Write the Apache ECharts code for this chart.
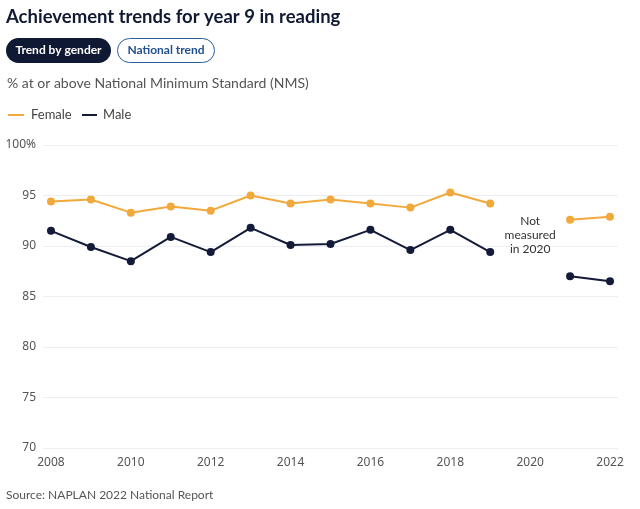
<!DOCTYPE html>
<html><head><meta charset="utf-8">
<script src="https://cdn.jsdelivr.net/npm/echarts@6/dist/echarts.min.js"></script>
<style>html,body{margin:0;padding:0;background:#fff}#c{width:640px;height:509px}</style>
</head><body><div id="c"></div>
<script>
const years = [2008,2009,2010,2011,2012,2013,2014,2015,2016,2017,2018,2019,2020,2021,2022];
const female = [94.4,94.6,93.3,93.9,93.5,95.0,94.2,94.6,94.2,93.8,95.3,94.2,null,92.6,92.9];
const male = [91.5,89.9,88.5,90.9,89.4,91.8,90.1,90.2,91.6,89.6,91.6,89.4,null,87.0,86.5];
const xTicks = [2008,2010,2012,2014,2016,2018,2020,2022];
const yTicks = [70,75,80,85,90,95,100];
const seriesNames = ['Female','Male'];
const note = 'Not\nmeasured\nin 2020';

const FONT = 'Lato, "Noto Sans", sans-serif';
const AXF = '"Noto Sans", sans-serif';
const ORANGE = '#f2a93b', NAVY = '#141b38';
const chart = echarts.init(document.getElementById('c'));
chart.setOption({
  animation:false,
  backgroundColor:'#fff',
  textStyle:{fontFamily:FONT},
  grid:{left:43,right:22,top:145,bottom:61},
  xAxis:{type:'value',min:2007.8,max:2022.2,
    axisLine:{show:false},axisTick:{show:false},splitLine:{show:false},
    axisLabel:{customValues:xTicks,color:'#555',fontSize:12,margin:9,fontFamily:AXF,formatter:v=>String(v)}},
  yAxis:{type:'value',min:70,max:100,interval:5,
    axisLine:{show:false},axisTick:{show:false},
    splitLine:{lineStyle:{color:'#eceef4',width:1}},
    axisLabel:{color:'#555',fontSize:12,margin:7,fontFamily:AXF,formatter:v=>v===100?'100%':String(v)}},
  legend:{show:false},
  series:[
    {name:seriesNames[0],type:'line',data:years.map((y,i)=>[y,female[i]]),connectNulls:false,
      symbol:'circle',symbolSize:8,itemStyle:{color:ORANGE},lineStyle:{color:ORANGE,width:2},
      markPoint:{symbol:'circle',symbolSize:0,silent:true,
        data:[{coord:[2020,91.1],label:{show:true,formatter:note,color:'#333',fontSize:12,lineHeight:14,align:'center',fontFamily:FONT}}]}},
    {name:seriesNames[1],type:'line',data:years.map((y,i)=>[y,male[i]]),connectNulls:false,
      symbol:'circle',symbolSize:8,itemStyle:{color:NAVY},lineStyle:{color:NAVY,width:2}}
  ],
  graphic:[
    {type:'text',left:6,top:8,style:{text:'Achievement trends for year 9 in reading',font:'bold 18.5px '+FONT,fill:'#111a33'}},
    {type:'rect',shape:{x:6,y:38,width:105,height:25,r:12.5},style:{fill:'#0f1933'}},
    {type:'text',x:58.5,y:50.5,style:{text:'Trend by gender',font:'bold 12px '+FONT,fill:'#fff',align:'center',verticalAlign:'middle'}},
    {type:'rect',shape:{x:117.5,y:38.5,width:97,height:24,r:12},style:{fill:'#fff',stroke:'#2a5d9c',lineWidth:1}},
    {type:'text',x:166,y:50.5,style:{text:'National trend',font:'bold 12px '+FONT,fill:'#1f4f8f',align:'center',verticalAlign:'middle'}},
    {type:'text',left:7,top:76,style:{text:'% at or above National Minimum Standard (NMS)',font:'14px '+FONT,fill:'#555'}},
    {type:'line',shape:{x1:8,y1:115,x2:24,y2:115},style:{stroke:ORANGE,lineWidth:2}},
    {type:'text',x:31,y:115,style:{text:seriesNames[0],font:'13px '+FONT,fill:'#444',verticalAlign:'middle'}},
    {type:'line',shape:{x1:82,y1:115,x2:97,y2:115},style:{stroke:NAVY,lineWidth:2}},
    {type:'text',x:103,y:115,style:{text:seriesNames[1],font:'13px '+FONT,fill:'#444',verticalAlign:'middle'}},
    {type:'text',left:6,top:489,style:{text:'Source: NAPLAN 2022 National Report',font:'12px '+FONT,fill:'#555'}}
  ]
});
</script></body></html>
